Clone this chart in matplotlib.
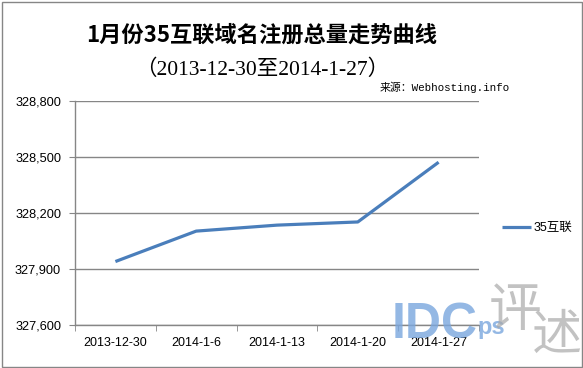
# 1月份35互联域名注册总量走势曲线
import numpy as np
import matplotlib.pyplot as plt
from matplotlib.patches import Rectangle
from matplotlib.ticker import FuncFormatter

dates = ['2013-12-30', '2014-1-6', '2014-1-13', '2014-1-20', '2014-1-27']
totals = [327940, 328103, 328135, 328152, 328472]
yticks = [327600, 327900, 328200, 328500, 328800]
serie = '35互联'

cjk = 'Noto Sans CJK SC'
plt.rcParams['font.family'] = ['Liberation Sans', cjk, 'DejaVu Sans']

W, H = 583, 368
fig = plt.figure(figsize=(W/100, H/100), dpi=100)
fig.patch.set_facecolor('white')

# moldura do grafico
fig.add_artist(Rectangle((1.5/W, 1.5/H), (W-3)/W, (H-3)/H, transform=fig.transFigure,
                         fill=False, edgecolor='#868686', linewidth=1))

# marca d'agua (atras do grafico, sobrepoe-se ao rotulo como no original)
fig.text(392/W, 1-338/H, 'IDC', ha='left', va='baseline', fontsize=36, fontweight='bold',
         color='#7AA7DE', alpha=0.8, family=['Liberation Sans'], zorder=0)
fig.text(477/W, 1-334/H, 'ps', ha='left', va='baseline', fontsize=17, fontweight='bold',
         color='#7AA7DE', alpha=0.8, family=['Liberation Sans'], zorder=0)
fig.text(515/W, 1-310/H, '评', ha='center', va='center', fontsize=38,
         color='#A8A8A8', alpha=0.7, family=[cjk], zorder=0)
fig.text(557/W, 1-336/H, '述', ha='center', va='center', fontsize=36,
         color='#A8A8A8', alpha=0.7, family=[cjk], zorder=0)

ax = fig.add_axes([75/W, (H-325)/H, (479-75)/W, (325-101)/H])
ax.patch.set_alpha(0)
x = np.arange(len(dates))
ax.plot(x, totals, color='#4A7EBB', linewidth=2.3, solid_capstyle='butt', label=serie, zorder=3)

ax.set_xlim(-0.5, len(dates)-0.5)
ax.set_ylim(yticks[0], yticks[-1])
ax.set_yticks(yticks)
ax.yaxis.set_major_formatter(FuncFormatter(lambda v, p: '{:,.0f}'.format(v)))
ax.set_xticks(x)
ax.set_xticklabels(dates)
ax.set_xticks(np.arange(len(dates)+1)-0.5, minor=True)
ax.tick_params(axis='x', which='major', length=0, pad=9, labelsize=9)
ax.tick_params(axis='x', which='minor', length=4, color='#868686', direction='out')
ax.tick_params(axis='y', length=4, color='#868686', direction='out', labelsize=9.2, pad=6)
ax.grid(axis='y', color='#868686', linewidth=1)
for s in ['top', 'right']:
    ax.spines[s].set_visible(False)
for s in ['left', 'bottom']:
    ax.spines[s].set_color('#868686')
    ax.spines[s].set_linewidth(1)

fig.legend(loc='center left', bbox_to_anchor=(496/W, 1-228/H), frameon=False,
           handlelength=2.3, handletextpad=0.2, borderpad=0, fontsize=9)

# titulos
fig.text(262/W, 1-35/H, '1月份35互联域名注册总量走势曲线', ha='center', va='center',
         fontsize=16, fontweight='bold', family=[cjk])
fig.text(262/W, 1-70/H, '（2013-12-30至2014-1-27）', ha='center', va='center',
         fontsize=15.5, family=['Liberation Serif', cjk])
fig.text(510/W, 1-87/H, '来源：Webhosting.info', ha='right', va='center',
         fontsize=7.8, family=['Liberation Mono', cjk])

plt.savefig('out.png', dpi=100)
plt.close('all')
